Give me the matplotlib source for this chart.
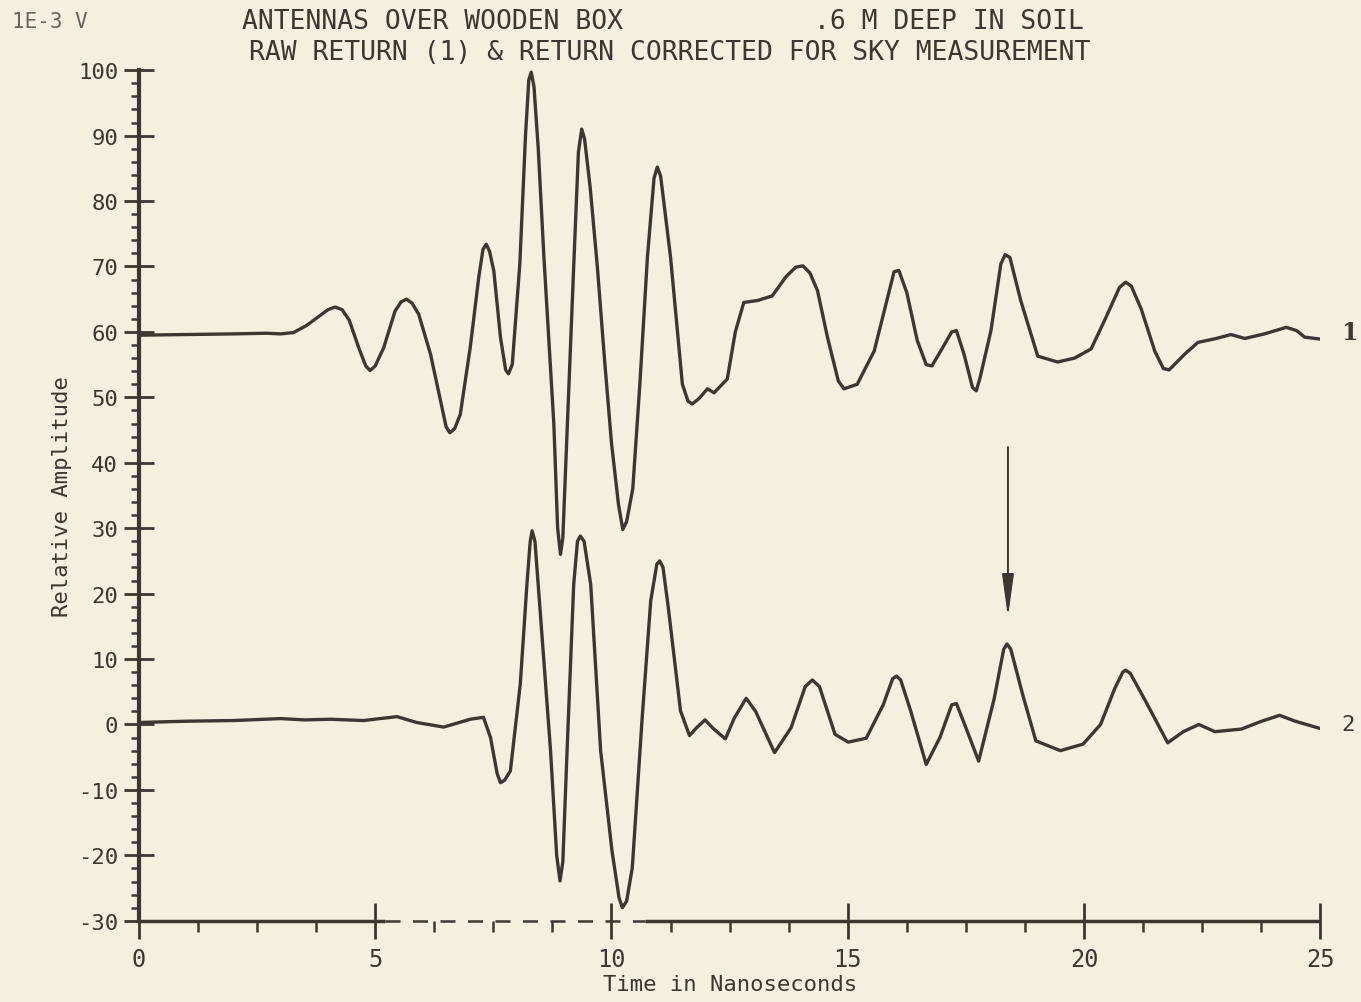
import matplotlib
matplotlib.use("Agg")
import matplotlib.pyplot as plt
from matplotlib.ticker import MultipleLocator

# ── Data ──────────────────────────────────────────────────────────────────
raw_t = [0.0, 1.0, 2.0, 2.7, 3.0, 3.27, 3.55, 3.83, 4.0, 4.15, 4.3, 4.45,
         4.65, 4.8, 4.89, 5.0, 5.18, 5.42, 5.55, 5.66, 5.78, 5.92, 6.17, 6.38,
         6.5, 6.58, 6.68, 6.8, 7.01, 7.19, 7.28, 7.35, 7.42, 7.51, 7.65, 7.76,
         7.82, 7.9, 8.06, 8.18, 8.25, 8.3, 8.36, 8.45, 8.57, 8.78, 8.86, 8.92,
         8.97, 9.05, 9.2, 9.3, 9.37, 9.43, 9.55, 9.7, 9.85, 10.0, 10.15, 10.24,
         10.32, 10.45, 10.6, 10.76, 10.9, 10.97, 11.04, 11.25, 11.5, 11.62, 11.71,
         11.85, 12.03, 12.17, 12.45, 12.62, 12.8, 13.09, 13.4, 13.7, 13.9, 14.05,
         14.2, 14.36, 14.57, 14.8, 14.92, 15.2, 15.56, 15.8, 15.98, 16.08, 16.25,
         16.47, 16.66, 16.78, 17.0, 17.2, 17.3, 17.46, 17.64, 17.72, 17.8, 18.03,
         18.24, 18.33, 18.43, 18.66, 19.02, 19.44, 19.8, 20.15, 20.45, 20.75,
         20.88, 21.0, 21.21, 21.5, 21.68, 21.8, 22.13, 22.41, 22.8, 23.11, 23.4,
         23.82, 24.28, 24.5, 24.67, 25.0]
raw_v = [59.5, 59.6, 59.7, 59.8, 59.7, 59.9, 61.0, 62.5, 63.4, 63.8, 63.4, 61.8,
         57.6, 54.8, 54.1, 54.8, 57.6, 63.2, 64.6, 65.0, 64.4, 62.7, 56.6, 49.5,
         45.5, 44.6, 45.2, 47.4, 57.6, 68.3, 72.6, 73.4, 72.3, 69.3, 59.2, 54.2,
         53.6, 55.0, 70.4, 90.0, 98.5, 99.7, 97.5, 88.0, 71.4, 45.9, 30.0, 26.0,
         28.5, 43.0, 70.0, 87.5, 91.0, 89.5, 82.0, 70.0, 56.0, 43.0, 33.5, 29.8,
         31.0, 36.0, 52.0, 71.4, 83.5, 85.2, 83.8, 71.4, 52.0, 49.4, 49.0,
         49.8, 51.3, 50.7, 52.8, 60.0, 64.5, 64.8, 65.5, 68.5, 69.9, 70.1,
         69.0, 66.3, 59.2, 52.5, 51.3, 52.0, 57.1, 64.0, 69.2, 69.4, 66.0,
         58.7, 55.0, 54.8, 57.5, 60.0, 60.2, 56.6, 51.5, 51.0, 53.0, 60.2,
         70.4, 71.8, 71.4, 64.8, 56.3, 55.4, 56.0, 57.4, 62.0, 66.8,
         67.6, 67.0, 63.5, 57.0, 54.4, 54.2, 56.6, 58.4, 59.0, 59.6, 59.0,
         59.7, 60.7, 60.2, 59.2, 58.9]

corr_t = [0.0, 1.0, 2.0, 3.0, 3.5, 4.05, 4.75, 5.46, 5.88, 6.45, 7.01, 7.29,
          7.44, 7.58, 7.65, 7.74, 7.86, 8.07, 8.21, 8.28, 8.32, 8.38, 8.5, 8.71,
          8.84, 8.91, 8.97, 9.06, 9.2, 9.28, 9.34, 9.42, 9.56, 9.77, 10.01, 10.16,
          10.23, 10.32, 10.44, 10.65, 10.83, 10.96, 11.02, 11.09, 11.2, 11.46,
          11.65, 11.8, 11.98, 12.15, 12.41, 12.6, 12.85, 13.05, 13.45, 13.8,
          14.1, 14.25, 14.4, 14.73, 15.01, 15.39, 15.75, 15.95, 16.03, 16.12,
          16.33, 16.66, 16.95, 17.2, 17.3, 17.5, 17.77, 18.1, 18.3, 18.37, 18.45,
          18.7, 18.98, 19.5, 19.98, 20.35, 20.65, 20.82, 20.88, 20.98, 21.3,
          21.77, 22.1, 22.43, 22.77, 23.33, 23.76, 24.14, 24.47, 24.99]
corr_v = [0.3, 0.5, 0.6, 0.9, 0.7, 0.8, 0.6, 1.2, 0.3, -0.4, 0.8, 1.1,
          -2.0, -7.5, -8.9, -8.5, -7.1, 6.2, 21.4, 28.0, 29.6, 28.0, 16.4, -4.0,
          -20.0, -23.9, -21.0, -4.0, 21.4, 28.0, 28.8, 28.0, 21.4, -4.0, -19.3,
          -26.5, -28.0, -27.0, -21.9, 1.1, 18.9, 24.5, 25.0, 24.0, 18.0, 2.1,
          -1.7, -0.5, 0.7, -0.6, -2.2, 1.0, 4.0, 2.0, -4.3, -0.5, 5.8, 6.8, 5.8,
          -1.5, -2.7, -2.1, 3.0, 7.0, 7.4, 6.8, 2.1, -6.1, -2.0, 3.0, 3.2, -0.5,
          -5.6, 4.0, 11.5, 12.3, 11.5, 4.6, -2.5, -4.0, -3.0, 0.0, 5.5, 8.0, 8.3,
          7.8, 3.6, -2.8, -1.1, 0.0, -1.1, -0.7, 0.5, 1.4, 0.5, -0.6]

arrow_t = 18.39
arrow_from, arrow_to = 42.4, 16.4

x_major = [0, 5, 10, 15, 20, 25]
y_major = list(range(-30, 101, 10))

# ── Style ────────────────────────────────────────────────────────────────
BG = "#f4f0e0"
INK = "#3d3631"
MONO = "DejaVu Sans Mono"
plt.rcParams["axes.unicode_minus"] = False

fig = plt.figure(figsize=(13.61, 10.03), dpi=100, facecolor=BG)
ax = fig.add_axes([0.1021, 0.081, 0.868, 0.848])
ax.set_facecolor(BG)

for t, v in [(raw_t, raw_v), (corr_t, corr_v)]:
    ax.plot(t, v, color=INK, lw=2.4, solid_joinstyle="round",
            solid_capstyle="round")

ax.annotate("", xy=(arrow_t, arrow_to), xytext=(arrow_t, arrow_from),
            arrowprops=dict(arrowstyle="-|>,head_length=1.3,head_width=0.18",
                            color=INK, lw=1.4, mutation_scale=20,
                            shrinkA=0, shrinkB=0))

ax.text(25.45, 60, "1", color=INK, fontsize=17, fontweight="bold",
        family="DejaVu Serif", va="center", ha="left")
ax.text(25.45, 0, "2", color=INK, fontsize=16, family=MONO,
        va="center", ha="left")

ax.set_xlim(0, 25)
ax.set_ylim(-30, 100)

# spines: left solid, bottom drawn by hand (dashed stretch like the plotter)
for s in ["top", "right", "bottom"]:
    ax.spines[s].set_visible(False)
ax.spines["left"].set_color(INK)
ax.spines["left"].set_linewidth(3)
ax.hlines(-30, 0, 5.2, color=INK, lw=2.5, clip_on=False)
ax.hlines(-30, 5.2, 10.7, color=INK, lw=1.8, linestyles=(0, (6, 5)),
          clip_on=False)
ax.hlines(-30, 10.7, 25, color=INK, lw=2.5, clip_on=False)

ax.xaxis.set_minor_locator(MultipleLocator(1.25))
ax.yaxis.set_minor_locator(MultipleLocator(2))
ax.set_xticks(x_major)
ax.set_yticks(y_major)

ax.tick_params(axis="x", which="major", direction="inout", length=26,
               width=2, color=INK, pad=6, labelsize=17, labelcolor=INK)
ax.tick_params(axis="x", which="minor", direction="out", length=8,
               width=1.8, color=INK)
ax.tick_params(axis="y", which="major", direction="inout", length=22,
               width=2, color=INK, pad=4, labelsize=16, labelcolor=INK)
ax.tick_params(axis="y", which="minor", direction="out", length=6,
               width=1.8, color=INK)
for lbl in ax.get_xticklabels() + ax.get_yticklabels():
    lbl.set_family(MONO)

ax.set_xlabel("Time in Nanoseconds", family=MONO, fontsize=16,
              color=INK, labelpad=2)
ax.set_ylabel("Relative Amplitude", family=MONO, fontsize=16,
              color=INK, labelpad=4)

# header
fig.text(0.009, 0.978, "1E-3 V", family=MONO, fontsize=15, color="#6a625c",
         ha="left", va="center")
fig.text(0.318, 0.978, "ANTENNAS OVER WOODEN BOX", family=MONO, fontsize=19,
         color=INK, ha="center", va="center")
fig.text(0.697, 0.978, ".6 M DEEP IN SOIL", family=MONO, fontsize=19,
         color=INK, ha="center", va="center")
fig.text(0.492, 0.947, "RAW RETURN (1) & RETURN CORRECTED FOR SKY MEASUREMENT",
         family=MONO, fontsize=19, color=INK, ha="center", va="center")

fig.savefig("out.png", dpi=100, facecolor=BG)
